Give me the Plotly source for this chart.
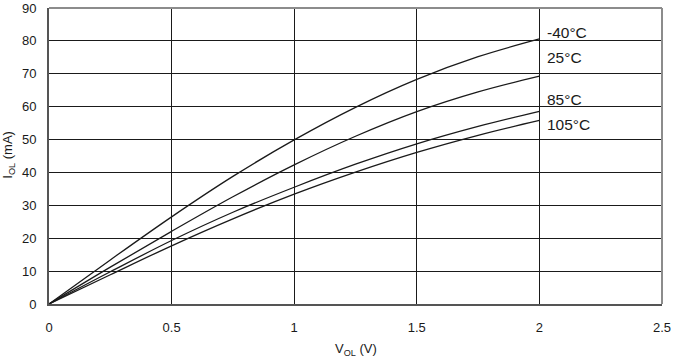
import plotly.graph_objects as go

v_ol = [0, 0.25, 0.5, 0.75, 1.0, 1.25, 1.5, 1.75, 2.0]
i_m40 = [0, 13.4, 26.5, 38.8, 49.9, 59.8, 68.3, 75.2, 80.6]
i_25 = [0, 11.2, 22.1, 32.6, 42.3, 51.0, 58.5, 64.5, 69.3]
i_85 = [0, 9.8, 19.3, 27.9, 35.5, 42.5, 48.7, 54.0, 58.6]
i_105 = [0, 8.9, 17.7, 25.9, 33.4, 40.1, 46.1, 51.3, 55.8]
series_names = ["-40°C", "25°C", "85°C", "105°C"]
label_y = [82.6, 75.0, 62.2, 54.5]

x_ticks = [0, 0.5, 1, 1.5, 2, 2.5]
x_tick_text = ["0", "0.5", "1", "1.5", "2", "2.5"]
y_ticks = [0, 10, 20, 30, 40, 50, 60, 70, 80, 90]

font = "Liberation Sans, Arial, sans-serif"
fig = go.Figure()
for name, ys in zip(series_names, [i_m40, i_25, i_85, i_105]):
    fig.add_trace(go.Scatter(x=v_ol, y=ys, mode="lines", name=name,
                             line=dict(color="#1a1a1a", width=1.3, shape="spline", smoothing=1.0),
                             showlegend=False, hoverinfo="skip"))

for name, ly in zip(series_names, label_y):
    fig.add_annotation(x=2.022, y=ly, text=name, showarrow=False, xanchor="left", yanchor="middle",
                       font=dict(family=font, size=15.5, color="#1a1a1a"))

fig.add_annotation(xref="paper", yref="paper", x=0.5, y=-0.155, text="V<sub>OL</sub> (V)",
                   showarrow=False, xanchor="center", yanchor="middle",
                   font=dict(family=font, size=13, color="#1a1a1a"))
fig.add_annotation(xref="paper", yref="paper", x=-0.066, y=0.503, text="I<sub>OL</sub> (mA)",
                   showarrow=False, xanchor="center", yanchor="middle", textangle=-90,
                   font=dict(family=font, size=13, color="#1a1a1a"))

fig.add_shape(type="line", xref="paper", yref="paper", x0=0, x1=1, y0=1, y1=1,
              line=dict(color="#8c8c8c", width=2), layer="above")
fig.add_shape(type="line", xref="paper", yref="paper", x0=1, x1=1, y0=0, y1=1,
              line=dict(color="#8c8c8c", width=2), layer="above")

fig.update_layout(
    width=676, height=358,
    margin=dict(l=49, r=14, t=8, b=54),
    paper_bgcolor="white", plot_bgcolor="white",
    font=dict(family=font, size=13, color="#1a1a1a"),
    xaxis=dict(range=[0, 2.5], tickvals=x_ticks, ticktext=x_tick_text, showgrid=True,
               gridcolor="#1a1a1a", gridwidth=1, zeroline=False, showline=True,
               linecolor="#555555", linewidth=2, ticks="", ticklabelstandoff=10,
               automargin=False),
    yaxis=dict(range=[0, 90], tickvals=y_ticks, showgrid=True, gridcolor="#1a1a1a", gridwidth=1,
               zeroline=False, showline=True, linecolor="#555555", linewidth=2, ticks="",
               ticklabelstandoff=8, automargin=False),
)
fig.write_html("out.html", config={"displayModeBar": False},
               post_script="document.body.style.margin='0';")
